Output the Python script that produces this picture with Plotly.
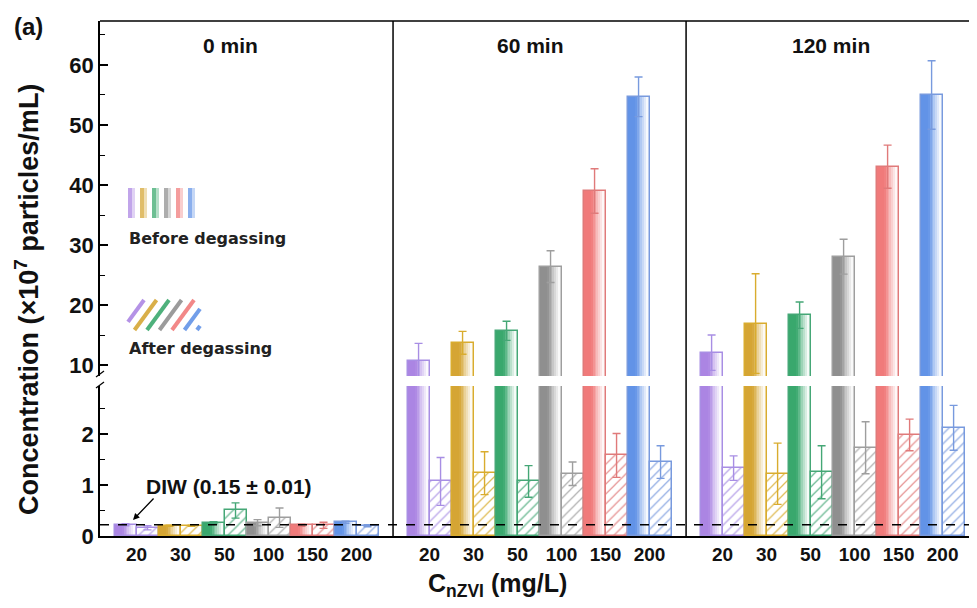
import plotly.graph_objects as go

# ---------------- data ----------------
CATEGORIES = ["20", "30", "50", "100", "150", "200"]
PANELS = ["0 min", "60 min", "120 min"]

COLORS = ["#a77fe2", "#d3a12a", "#2fa466", "#8a8a8a", "#f07474", "#5a8ee6"]
EDGE_COLORS = ["#a88ee4", "#d9ac2e", "#45a776", "#9e9e9e", "#e07a7a", "#789ade"]

BEFORE_0 = [0.22, 0.20, 0.26, 0.26, 0.21, 0.27]
BEFORE_0_ERR = [0.02, 0.01, 0.02, 0.06, 0.02, 0.02]
BEFORE_60 = [10.7, 13.7, 15.7, 26.4, 39.0, 54.7]
BEFORE_60_ERR = [2.9, 1.9, 1.6, 2.65, 3.7, 3.3]
BEFORE_120 = [12.05, 16.9, 18.3, 28.05, 43.05, 55.0]
BEFORE_120_ERR = [2.95, 8.3, 2.2, 2.9, 3.6, 5.7]

AFTER_0 = [0.16, 0.20, 0.50, 0.36, 0.21, 0.20]
AFTER_0_ERR = [0.04, 0.01, 0.15, 0.19, 0.06, 0.02]
AFTER_60 = [1.07, 1.23, 1.07, 1.22, 1.58, 1.45]
AFTER_60_ERR = [0.47, 0.42, 0.31, 0.23, 0.43, 0.32]
AFTER_120 = [1.33, 1.22, 1.25, 1.73, 1.98, 2.12]
AFTER_120_ERR = [0.24, 0.60, 0.52, 0.51, 0.31, 0.44]

DIW_LINE = 0.22

# ---------------- layout constants ----------------
BODY = 8                      # default page margin around the figure
LEFT_PG = 100                 # page x of plot left edge
TOP_PG = 21                   # page y of plot top edge
BOTTOM_PG = 536               # page y of plot bottom edge
W, H = 977 - BODY, 608 - 2 * BODY
ML, MR, MT = LEFT_PG - BODY, 0, TOP_PG - BODY
MB = H - (BOTTOM_PG - BODY)
PW = W - ML - MR
PH = H - MT - MB

PANEL_W = 13.32
MARGIN = 0.66
X_MAX = PW / 22.0

LOWER_MAX = 2.94
UPPER_MIN, UPPER_MAX = 8.17, 67.33
LOWER_DOMAIN = [0, 150 / PH]
UPPER_DOMAIN = [160 / PH, 1]

FONT = "Liberation Sans, Arial, sans-serif"

before = [BEFORE_0, BEFORE_60, BEFORE_120]
before_err = [BEFORE_0_ERR, BEFORE_60_ERR, BEFORE_120_ERR]
after = [AFTER_0, AFTER_60, AFTER_120]
after_err = [AFTER_0_ERR, AFTER_60_ERR, AFTER_120_ERR]


def pos(p, i, which):
    return p * PANEL_W + MARGIN + 2 * i + 0.5 + which


def px(xp):
    return (xp - LEFT_PG) / PW


def py(yp):
    return (BOTTOM_PG - yp) / PH


def hex_rgb(h):
    h = h.lstrip("#")
    return tuple(int(h[k:k + 2], 16) for k in (0, 2, 4))


def blend(h, a):
    r, g, b = hex_rgb(h)
    return "rgb(%d,%d,%d)" % (255 - (255 - r) * a, 255 - (255 - g) * a, 255 - (255 - b) * a)


def intensity(t):
    if t < 0.35:
        return 0.95
    if t > 0.9:
        return 0.0
    return 0.95 * (0.9 - t) / 0.55


fig = go.Figure()

all_bx = [pos(p, i, 0) for p in range(3) for i in range(6)]
all_by = [before[p][i] for p in range(3) for i in range(6)]
all_bc = [i for p in range(3) for i in range(6)]

N = 12
for yax in ["y", "y2"]:
    for k in range(N):
        r = 1 - k / N
        t = r - 0.5 / N
        fig.add_trace(go.Bar(
            x=all_bx, y=all_by, yaxis=yax, offset=-0.5, width=r,
            marker=dict(color=[blend(COLORS[c], intensity(t)) for c in all_bc],
                        line=dict(width=0)),
            showlegend=False, hoverinfo="skip"))

for i in range(6):
    xs = [pos(p, i, 0) for p in range(3)]
    ys = [before[p][i] for p in range(3)]
    es = [before_err[p][i] for p in range(3)]
    for yax, lo, hi in [("y", 0, LOWER_MAX), ("y2", UPPER_MIN, UPPER_MAX)]:
        ev = [e if lo < v < hi else None for v, e in zip(ys, es)]
        fig.add_trace(go.Bar(
            x=xs, y=ys, yaxis=yax, offset=-0.5, width=1,
            marker=dict(color="rgba(0,0,0,0)", line=dict(color=EDGE_COLORS[i], width=1.5)),
            error_y=dict(type="data", array=ev, visible=True, color=EDGE_COLORS[i],
                         thickness=1.4, width=4),
            showlegend=False, hoverinfo="skip"))
    xa = [pos(p, i, 1) for p in range(3)]
    ya = [after[p][i] for p in range(3)]
    ea = [after_err[p][i] for p in range(3)]
    fig.add_trace(go.Bar(
        x=xa, y=ya, yaxis="y", offset=-0.5, width=1,
        marker=dict(color="white",
                    pattern=dict(shape="/", fgcolor=EDGE_COLORS[i], bgcolor="white",
                                 size=7, solidity=0.18, fgopacity=0.8),
                    line=dict(color=EDGE_COLORS[i], width=1.5)),
        error_y=dict(type="data", array=ea, visible=True, color=EDGE_COLORS[i],
                     thickness=1.4, width=4),
        showlegend=False, hoverinfo="skip"))

tickvals = [p * PANEL_W + MARGIN + 2 * i + 1 for p in range(3) for i in range(6)]
ticktext = [c for p in range(3) for c in CATEGORIES]

shapes = []
# panel dividers
for p in (1, 2):
    shapes.append(dict(type="line", xref="x", yref="paper", x0=p * PANEL_W, x1=p * PANEL_W,
                       y0=0, y1=1, line=dict(color="black", width=1.5)))
# top border
shapes.append(dict(type="line", xref="paper", yref="paper", x0=0, x1=1, y0=1, y1=1,
                   line=dict(color="black", width=1.5)))
# DIW dashed line
shapes.append(dict(type="line", xref="paper", yref="y", x0=0, x1=1, y0=DIW_LINE, y1=DIW_LINE,
                   line=dict(color="black", width=1.5, dash="dash")))
# axis break marks
for yb in (377, 388):
    shapes.append(dict(type="line", xref="paper", yref="paper", x0=px(96), x1=px(104),
                       y0=py(yb), y1=py(yb - 6), line=dict(color="black", width=1.2)))
# legend: before degassing stripes
for i, c in enumerate(COLORS):
    x0 = 128 + 12 * i
    shapes.append(dict(type="rect", xref="paper", yref="paper", x0=px(x0), x1=px(x0 + 4),
                       y0=py(218), y1=py(188), line=dict(width=0), fillcolor=blend(c, 0.7)))
    shapes.append(dict(type="rect", xref="paper", yref="paper", x0=px(x0 + 4), x1=px(x0 + 7),
                       y0=py(218), y1=py(188), line=dict(width=0), fillcolor=blend(c, 0.35)))
# legend: after degassing hatch
bx0, bx1, by0, by1 = 128, 200, 300, 330
slope = 30 / 22
for i, c in enumerate(COLORS + COLORS[:1]):
    xs0 = 122 + 12.5 * i
    xa_, ya_ = xs0, by1
    xb_, yb_ = xs0 + 22, by0
    if xa_ < bx0:
        ya_ = by1 - (bx0 - xa_) * slope
        xa_ = bx0
    if xb_ > bx1:
        yb_ = by0 + (xb_ - bx1) * slope
        xb_ = bx1
    if xa_ >= xb_:
        continue
    col = c if i < 6 else COLORS[5]
    shapes.append(dict(type="line", xref="paper", yref="paper", x0=px(xa_), x1=px(xb_),
                       y0=py(ya_), y1=py(yb_), line=dict(color=blend(col, 0.85), width=4)))


def note(text, x, y, size, family=FONT, xanchor="center", angle=0, color="#111"):
    return dict(text=text, xref="paper", yref="paper", x=px(x), y=py(y), xanchor=xanchor,
                yanchor="middle", textangle=angle, showarrow=False,
                font=dict(family=family, size=size, color=color))


annotations = []
for name, xc in zip(PANELS, (230, 530, 831)):
    annotations.append(note("<b>%s</b>" % name, xc, 45, 21))
annotations += [
    note("<b>(a)</b>", 28, 27, 24),
    note("<b>Concentration (×10<sup>7</sup> particles/mL)</b>", 27, 300, 27, angle=-90),
    note("<b>C<sub>nZVI</sub> (mg/L)</b>", 497, 585, 25),
    note("<b>DIW (0.15 ± 0.01)</b>", 229, 486, 21),
    dict(text="", xref="paper", yref="paper", x=px(133), y=py(520), ax=22, ay=-23,
         showarrow=True, arrowhead=2, arrowsize=1, arrowwidth=1.3, arrowcolor="black"),
    note("<b>Before degassing</b>", 127, 239, 16, family="DejaVu Sans", xanchor="left", color="#222"),
    note("<b>After degassing</b>", 127, 348, 16, family="DejaVu Sans", xanchor="left", color="#222"),
]

axis_font = dict(family=FONT, size=22, color="#111", weight="bold")

fig.update_layout(
    width=W, height=H,
    margin=dict(l=ML, r=MR, t=MT, b=MB, pad=0),
    paper_bgcolor="white", plot_bgcolor="white",
    barmode="overlay", bargap=0,
    showlegend=False,
    xaxis=dict(range=[0, X_MAX], tickmode="array", tickvals=tickvals, ticktext=ticktext,
               showline=True, linecolor="black", linewidth=1.5, ticks="", showgrid=False,
               zeroline=False, anchor="y",
               tickfont=dict(family=FONT, size=19, color="#111", weight="bold")),
    yaxis=dict(domain=LOWER_DOMAIN, range=[0, LOWER_MAX], tickmode="linear", tick0=0, dtick=1,
               showline=True, linecolor="black", linewidth=1.5, ticks="inside", ticklen=8,
               tickwidth=1.5, tickcolor="black", showgrid=False, zeroline=False,
               minor=dict(ticks="inside", ticklen=5, dtick=0.5, tick0=0, tickcolor="black",
                          tickwidth=1.2, showgrid=False),
               tickfont=axis_font, anchor="x"),
    yaxis2=dict(domain=UPPER_DOMAIN, range=[UPPER_MIN, UPPER_MAX], tickmode="linear", tick0=0,
                dtick=10, showline=True, linecolor="black", linewidth=1.5, ticks="inside",
                ticklen=8, tickwidth=1.5, tickcolor="black", showgrid=False, zeroline=False,
                minor=dict(ticks="inside", ticklen=5, dtick=5, tick0=0, tickcolor="black",
                           tickwidth=1.2, showgrid=False),
                tickfont=axis_font, anchor="x"),
    shapes=shapes,
    annotations=annotations,
)

fig.write_html("out.html")
